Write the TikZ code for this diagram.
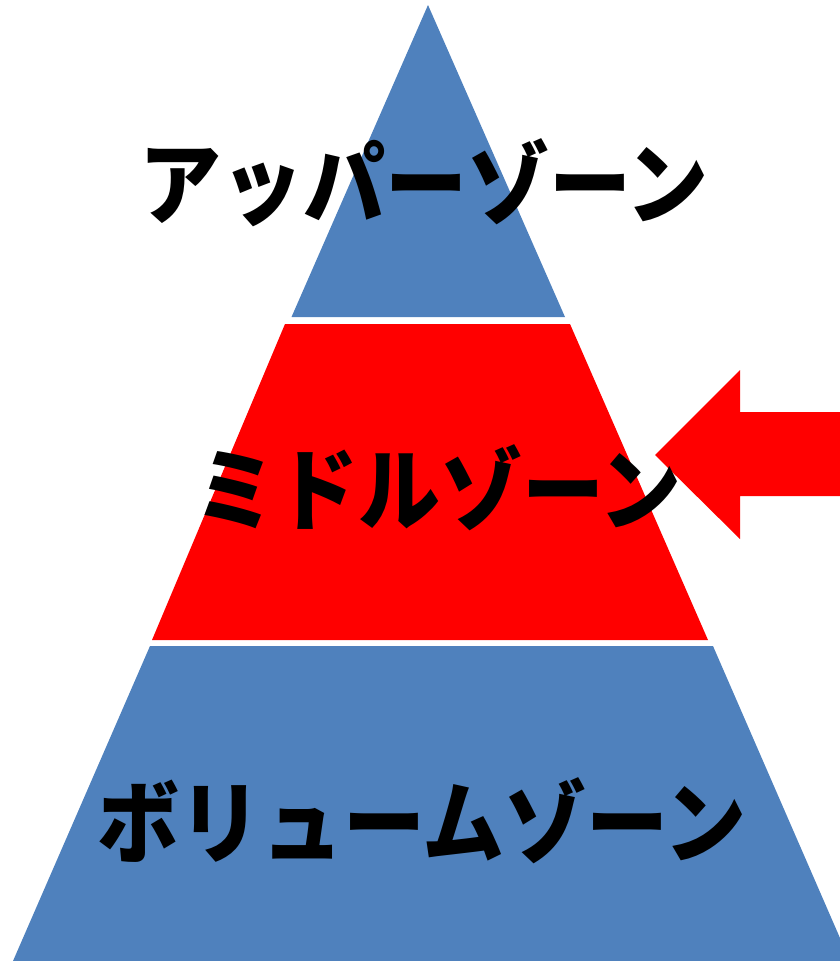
\documentclass[tikz,border=0pt]{standalone}
\usepackage{fontspec}
\usepackage{graphicx}
\newfontfamily\cjk{Noto Sans CJK JP}
\definecolor{zoneblue}{HTML}{4F81BD}
\definecolor{zonered}{HTML}{FF0000}
\newcommand{\zonetext}[1]{\scalebox{1}[1.1]{#1}}
\begin{document}
\begin{tikzpicture}[x=1pt,y=-1pt,
  zonelabel/.style={inner sep=0pt, font=\cjk\bfseries\fontsize{82}{82}\selectfont, text=black}]
\useasboundingbox (0,0) rectangle (840,961);
\begin{scope}
\clip (0,0) rectangle (840,961);
\fill[zoneblue] (428,5) -- (565,317) -- (291.5,317) -- cycle;
\fill[zonered] (285,324) -- (570,324) -- (708,640) -- (152,640) -- cycle;
\fill[zoneblue] (150,646) -- (713,646) -- (850,961) -- (13,961) -- cycle;
\fill[zonered] (655,455) -- (740,370) -- (740,412) -- (845,412) -- (845,496) -- (740,496) -- (740,539) -- cycle;
\end{scope}
\node[zonelabel] (upper) at (424,183) {\zonetext{アッパーゾーン}};
\node[zonelabel] (middle) at (438,488) {\zonetext{ミドルゾーン}};
\node[zonelabel] (volume) at (422,821) {\zonetext{ボリュームゾーン}};
\end{tikzpicture}
\end{document}
